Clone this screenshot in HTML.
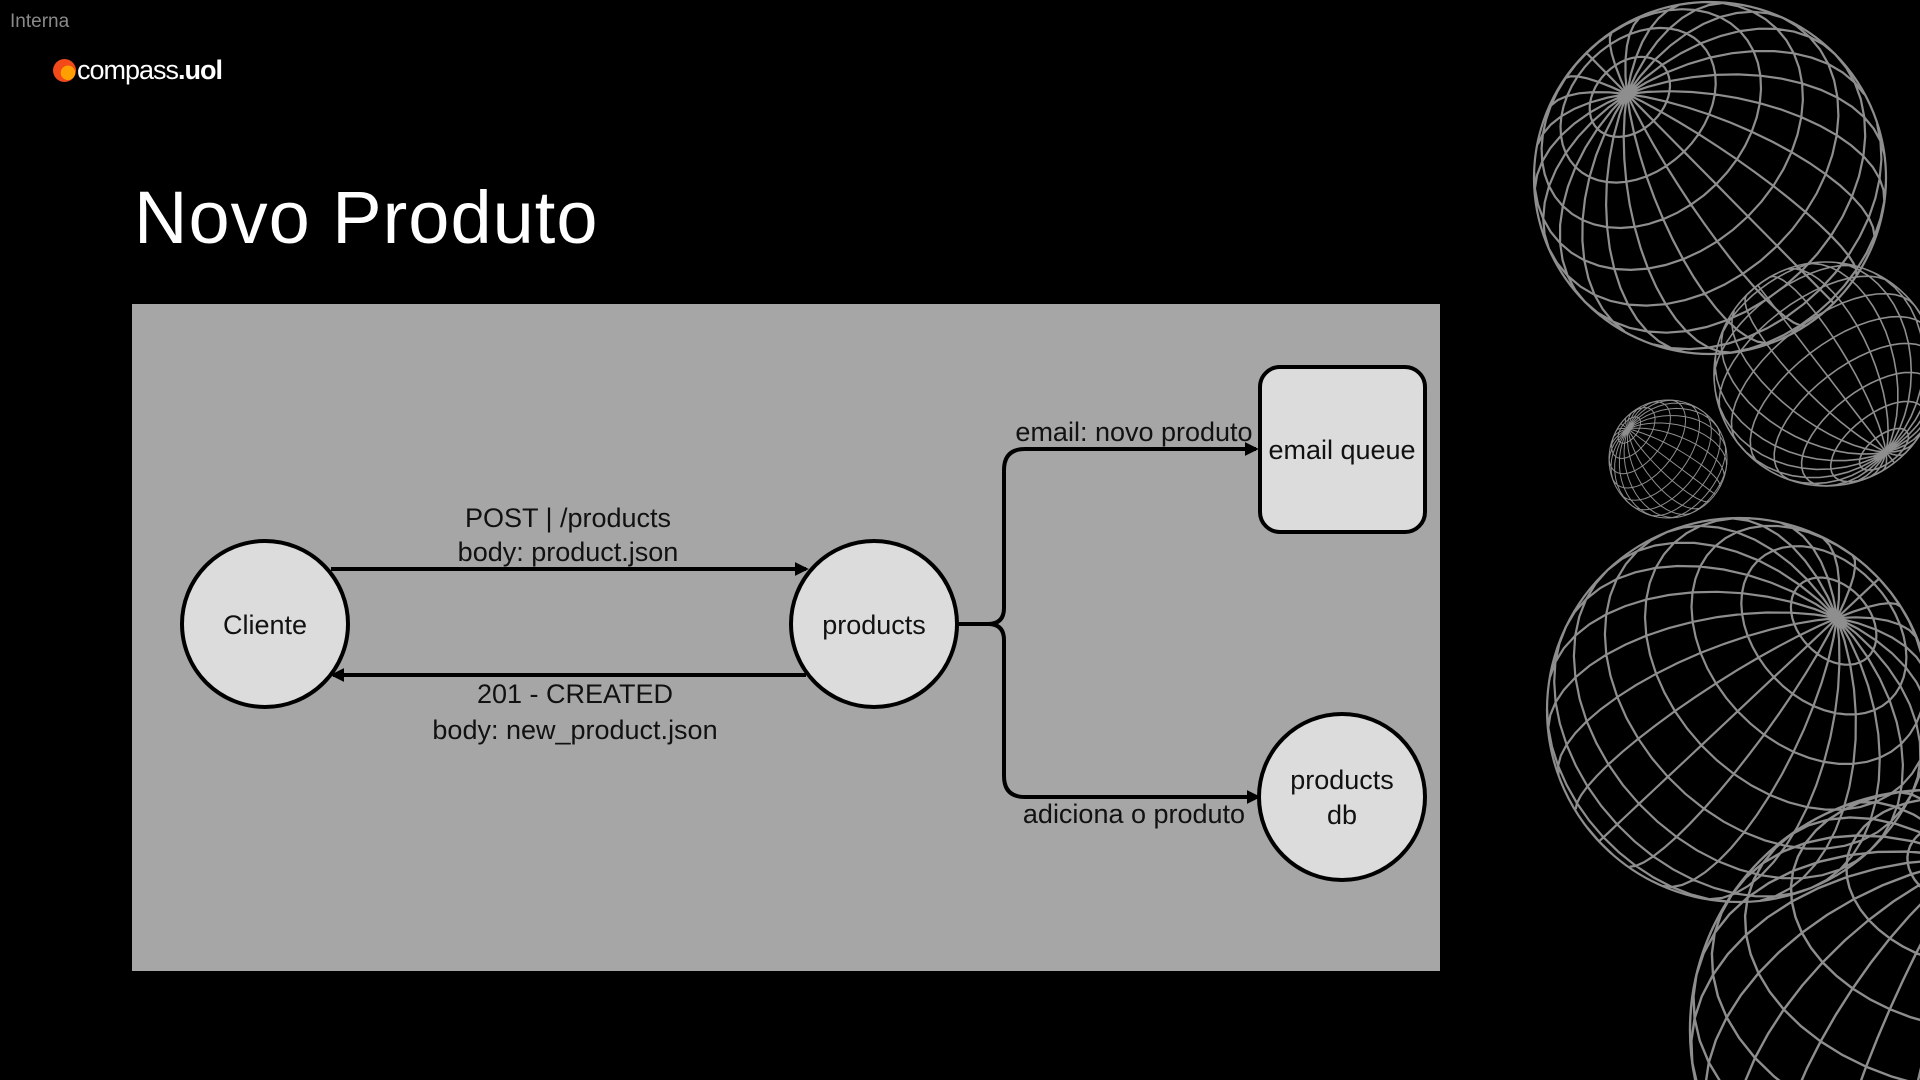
<!DOCTYPE html>
<html><head><meta charset="utf-8"><style>
html,body{margin:0;padding:0;background:#000;width:1920px;height:1080px;overflow:hidden}
body{position:relative;font-family:"Liberation Sans",sans-serif}
.t{position:absolute;white-space:nowrap;line-height:1}
svg{display:block;overflow:hidden}
</style></head><body>
<div class="t" style="left:10px;top:12px;font-size:19px;color:#8a8a8a">Interna</div>
<div style="position:absolute;left:53px;top:59px;width:23px;height:23px;border-radius:50%;background:radial-gradient(circle at 65% 60%,#ffa000 0 35%,#f24a1a 36%)"></div>
<div class="t" style="left:77px;top:57px;font-size:27px;color:#fff;letter-spacing:-1px">compass<b>.uol</b></div>
<div class="t" style="left:134px;top:181px;font-size:74px;color:#fff;letter-spacing:1px">Novo Produto</div>
<svg id="sp" style="position:absolute;left:0;top:0" width="1920" height="1080"></svg>
<svg style="position:absolute;left:0;top:0" width="1920" height="1080" font-family="Liberation Sans, sans-serif" font-size="27" fill="#111">
<defs><marker id="a2" viewBox="0 0 10 10" markerWidth="14" markerHeight="14" refX="8" refY="5" orient="auto" markerUnits="userSpaceOnUse"><path d="M0,0 L10,5 L0,10 z" fill="#000"/></marker></defs>
<rect x="132" y="304" width="1308" height="667" fill="#a6a6a6"/>
<g stroke="#000" stroke-width="4" fill="none">
<path d="M331 569 H806" marker-end="url(#a2)"/>
<path d="M806 675 H333" marker-end="url(#a2)"/>
<path d="M958 624 H988 Q1004 624 1004 608 V470 Q1004 449 1025 449 H1256" marker-end="url(#a2)"/>
<path d="M988 624 Q1004 624 1004 640 V776 Q1004 797 1025 797 H1258" marker-end="url(#a2)"/>
</g>
<g fill="#dcdcdc" stroke="#000" stroke-width="4">
<circle cx="265" cy="624" r="83"/>
<circle cx="874" cy="624" r="83"/>
<rect x="1260" y="367" width="165" height="165" rx="20"/>
<circle cx="1342" cy="797" r="83"/>
</g>
<g text-anchor="middle">
<text x="265" y="634">Cliente</text>
<text x="874" y="634">products</text>
<text x="1342" y="459">email queue</text>
<text x="1342" y="789">products</text>
<text x="1342" y="824">db</text>
<text x="568" y="527">POST | /products</text>
<text x="568" y="561">body: product.json</text>
<text x="575" y="703">201 - CREATED</text>
<text x="575" y="739">body: new_product.json</text>
<text x="1134" y="441">email: novo produto</text>
<text x="1134" y="823">adiciona o produto</text>
</g>
</svg>
<script>
var svg=document.getElementById('sp'),out='';
function sphere(cx,cy,r,pdx,pdy,sw){
 var px=pdx/r,py=pdy/r,pz=Math.sqrt(Math.max(0.01,1-px*px-py*py));
 var n=Math.sqrt(px*px+py*py+pz*pz);px/=n;py/=n;pz/=n;
 var u=[-py,px,0];var ul=Math.hypot(u[0],u[1])||1;u=[u[0]/ul,u[1]/ul,0];
 var v=[py*u[2]-pz*u[1],pz*u[0]-px*u[2],px*u[1]-py*u[0]];
 function P(lat,lon){var c=Math.cos(lat),s=Math.sin(lat);
  var x=c*(Math.cos(lon)*u[0]+Math.sin(lon)*v[0])+s*px,
      y=c*(Math.cos(lon)*u[1]+Math.sin(lon)*v[1])+s*py,
      z=c*(Math.cos(lon)*u[2]+Math.sin(lon)*v[2])+s*pz;return [cx+r*x,cy+r*y,z];}
 var d='';
 function line(f,N){var on=false;for(var i=0;i<=N;i++){var p=f(i/N);if(p[2]>=-0.02){d+=(on?'L':'M')+p[0].toFixed(1)+' '+p[1].toFixed(1);on=true}else on=false;}}
 for(var k=1;k<12;k++){var lat=-Math.PI/2+k*Math.PI/12;line(function(t){return P(lat,t*2*Math.PI)},48);}
 for(var m=0;m<24;m++){var lon=m*2*Math.PI/24;line(function(t){return P(-Math.PI/2+t*Math.PI,lon)},24);}
 out+='<path d="'+d+'" fill="none" stroke="#8e8e8e" stroke-width="'+sw+'"/><circle cx="'+cx+'" cy="'+cy+'" r="'+r+'" fill="none" stroke="#8e8e8e" stroke-width="'+sw+'"/>';
}
sphere(1710,178,176,-83,-84,2.2);
sphere(1826,374,112,60,78,1.6);
sphere(1668,459,59,-40,-30,1);
sphere(1739,710,192,98,-92,2.2);
sphere(1930,1030,240,40,-170,2.4);
svg.innerHTML=out;
</script>
</body></html>
